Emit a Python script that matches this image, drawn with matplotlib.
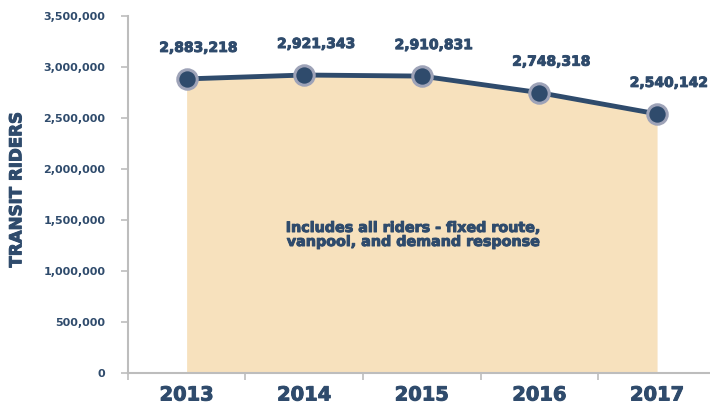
import numpy as np
import matplotlib
matplotlib.use("Agg")
import matplotlib.pyplot as plt
import matplotlib.patheffects as pe
from matplotlib.ticker import FuncFormatter, FixedLocator

years = ["2013", "2014", "2015", "2016", "2017"]
riders = [2883218, 2921343, 2910831, 2748318, 2540142]
yticks = [0, 500000, 1000000, 1500000, 2000000, 2500000, 3000000, 3500000]
note = "Includes all riders - fixed route,\nvanpool, and demand response"

NAVY = "#2f4b6c"
FILL = "#f7e1bd"
RING = "#9ea3b8"
GREY = "#bdbdbd"
# thicken DejaVu bold a little to look like the heavy original font
HEAVY = [pe.withStroke(linewidth=0.7, foreground=NAVY)]

plt.rcParams["font.family"] = ["DejaVu Sans"]

fig = plt.figure(figsize=(7.1, 4.07), dpi=100)
ax = fig.add_axes([0.180, 0.0835, 0.820, 0.8772])

x = np.arange(len(years))
ax.fill_between(x, 0, riders, color=FILL, lw=0, zorder=1)
ax.plot(x, riders, color=NAVY, lw=3.5, zorder=3, solid_capstyle="round")
ax.plot(x, riders, "o", ms=14, mfc=NAVY, mec=RING, mew=2.2, zorder=4)

for xi, v in zip(x, riders):
    ax.annotate(f"{v:,}", (xi, v), xytext=(12, 31), textcoords="offset pixels",
                ha="center", va="center", fontsize=10, fontweight="bold",
                color=NAVY, path_effects=HEAVY)

ax.text(1.93, 1.353e6, note, ha="center", va="center", fontsize=10.3,
        fontweight="bold", color=NAVY, linespacing=1.0, path_effects=HEAVY)

ax.set_xlim(-0.5, 4.45)
ax.set_ylim(0, 3500000)
ax.set_yticks(yticks)
ax.yaxis.set_major_formatter(FuncFormatter(lambda v, p: f"{int(v):,}"))
ax.set_xticks(x)
ax.set_xticklabels(years)
ax.xaxis.set_minor_locator(FixedLocator(np.arange(-0.5, 5, 1.0)))
ax.tick_params(axis="x", which="major", length=0, pad=9, labelsize=14,
               labelcolor=NAVY)
ax.tick_params(axis="x", which="minor", length=5, color=GREY, width=1.2)
ax.tick_params(axis="y", length=5, color=GREY, width=1.2, pad=11,
               labelsize=8, labelcolor=NAVY)
for lab in ax.get_xticklabels() + ax.get_yticklabels():
    lab.set_fontweight("bold")
for lab in ax.get_xticklabels():
    lab.set_path_effects(HEAVY)

for s in ["top", "right"]:
    ax.spines[s].set_visible(False)
for s in ["left", "bottom"]:
    ax.spines[s].set_color(GREY)
    ax.spines[s].set_linewidth(1.5)

fig.text(0.023, 0.533, "TRANSIT RIDERS", rotation=90, ha="center", va="center",
         fontsize=12, fontweight="bold", color=NAVY, path_effects=HEAVY)

fig.savefig("out.png", dpi=100)
